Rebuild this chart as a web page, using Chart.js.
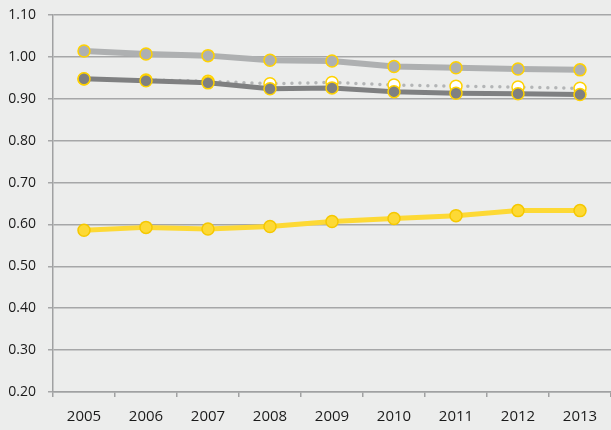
<!DOCTYPE html>
<html>
<head>
<meta charset="utf-8">
<script src="https://cdn.jsdelivr.net/npm/chart.js@4/dist/chart.umd.min.js"></script>
<style>
html,body{margin:0;padding:0;background:#ecedec;overflow:hidden;}
#wrap{width:611px;height:430px;}
</style>
</head>
<body>
<div id="wrap"><canvas id="c" width="611" height="430"></canvas></div>
<script>
const years = ['2005','2006','2007','2008','2009','2010','2011','2012','2013'];
const lightGray = [1.014, 1.007, 1.003, 0.992, 0.990, 0.977, 0.974, 0.971, 0.969];
const darkGray  = [0.948, 0.943, 0.938, 0.924, 0.926, 0.917, 0.913, 0.912, 0.910];
const dotted    = [0.947, 0.945, 0.942, 0.936, 0.939, 0.933, 0.930, 0.928, 0.925];
const yellow    = [0.586, 0.593, 0.589, 0.595, 0.607, 0.614, 0.621, 0.633, 0.633];
const yMin = 0.2, yMax = 1.1, yStep = 0.1;

const bgPlugin = {
  id: 'bg',
  beforeDraw(chart) {
    const ctx = chart.ctx;
    ctx.save();
    ctx.fillStyle = '#ecedec';
    ctx.fillRect(0, 0, chart.width, chart.height);
    ctx.restore();
  }
};

new Chart(document.getElementById('c'), {
  type: 'line',
  data: {
    labels: years,
    datasets: [
      {
        data: yellow, order: 0,
        borderColor: '#fdd935', borderWidth: 5,
        pointRadius: 6, pointBackgroundColor: '#fdd935', pointBorderColor: '#f5c800', pointBorderWidth: 1.5,
        tension: 0
      },
      {
        data: darkGray, order: 1,
        borderColor: '#7f8081', borderWidth: 5,
        pointRadius: 6, pointBackgroundColor: '#7f8081', pointBorderColor: '#ffd200', pointBorderWidth: 1.5,
        tension: 0
      },
      {
        data: dotted, order: 2,
        borderColor: '#b3b5b6', borderWidth: 3.5, borderDash: [0, 8], borderCapStyle: 'round',
        pointRadius: 6, pointBackgroundColor: '#ffffff', pointBorderColor: '#ffd200', pointBorderWidth: 1.5,
        tension: 0
      },
      {
        data: lightGray, order: 3,
        borderColor: '#aeb0b1', borderWidth: 6,
        pointRadius: 6, pointBackgroundColor: '#aeb0b1', pointBorderColor: '#ffd200', pointBorderWidth: 1.5,
        tension: 0
      }
    ]
  },
  options: {
    responsive: false,
    animation: false,
    layout: { autoPadding: false, padding: { left: 8, right: 0, top: 15, bottom: 0 } },
    plugins: { legend: { display: false }, tooltip: { enabled: false } },
    scales: {
      x: {
        offset: true,
        afterFit: s => { s.height = 38; s.paddingLeft = 0; s.paddingRight = 0; },
        grid: { offset: true, drawOnChartArea: false, drawTicks: true, tickLength: 5, color: '#a0a1a2', lineWidth: 1.5 },
        border: { display: true, color: '#a0a1a2', width: 1.5 },
        ticks: { color: '#1a1a1a', font: { family: 'Open Sans', size: 15 }, padding: 11, maxRotation: 0 }
      },
      y: {
        min: yMin, max: yMax,
        afterFit: s => { s.width = 45; s.paddingTop = 0; s.paddingBottom = 0; },
        grid: { color: '#a6a7a8', lineWidth: 1.5, tickLength: 5 },
        border: { display: true, color: '#a0a1a2', width: 1.5 },
        ticks: {
          stepSize: yStep,
          color: '#1a1a1a', font: { family: 'Open Sans', size: 14 }, padding: 12,
          callback: v => Number(v).toFixed(2)
        }
      }
    }
  },
  plugins: [bgPlugin]
});
</script>
</body>
</html>
